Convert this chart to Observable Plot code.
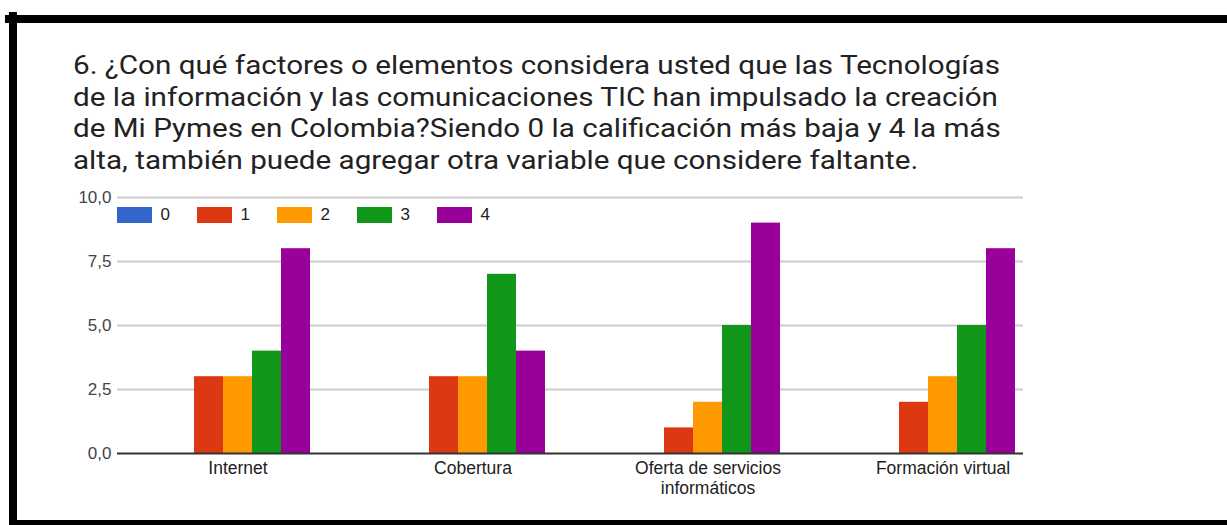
<!DOCTYPE html>
<html><head><meta charset="utf-8">
<script src="https://cdn.jsdelivr.net/npm/d3@7"></script>
<script src="https://cdn.jsdelivr.net/npm/@observablehq/plot@0.6"></script>
<style>
html,body{margin:0;padding:0;background:#fff;}
#wrap{position:relative;width:1227px;height:525px;overflow:hidden;background:#fff;}
.edge{position:absolute;background:#000;}
#title{position:absolute;left:73px;top:50px;font-family:Roboto,sans-serif;font-size:25px;line-height:31.5px;color:#222;white-space:pre;transform-origin:0 0;}
.layer{position:absolute;left:0;top:185px;}
#legend{position:absolute;left:117px;top:205px;}
.lg-swatches{font-family:Arial,'Liberation Sans',sans-serif !important;font-size:17px !important;color:#222 !important;margin:0 !important;min-height:0 !important;}
.lg-swatch{margin-right:0 !important;width:80px;}
</style></head><body>
<div id="wrap">
 <div class="edge" style="left:5px;top:15px;width:1222px;height:8px"></div>
 <div class="edge" style="left:9px;top:12px;width:8px;height:513px"></div>
 <div class="edge" style="left:9px;top:520px;width:1218px;height:5px"></div>
 <div id="title"><span id="t1"></span></div>
 <div id="gridLayer" class="layer"></div>
 <div id="barLayer" class="layer"></div>
 <div id="baseLayer" class="layer"></div>
 <div id="legend"></div>
</div>
<script>
const titleLines = [
  "6. ¿Con qué factores o elementos considera usted que las Tecnologías",
  "de la información y las comunicaciones TIC han impulsado la creación",
  "de Mi Pymes en Colombia?Siendo 0 la calificación más baja y 4 la más",
  "alta, también puede agregar otra variable que considere faltante."
];
const categories = ["Internet", "Cobertura", "Oferta de servicios informáticos", "Formación virtual"];
const series = ["0", "1", "2", "3", "4"];
const colors = ["#3366cc", "#dc3912", "#ff9900", "#109618", "#990099"];
const internet = [0, 3, 3, 4, 8];
const cobertura = [0, 3, 3, 7, 4];
const oferta = [0, 1, 2, 5, 9];
const formacion = [0, 2, 3, 5, 8];
const yTicks = [0, 2.5, 5, 7.5, 10];

const valuesByCategory = [internet, cobertura, oferta, formacion];
const data = categories.flatMap((c, i) => series.map((s, j) => ({category: c, series: s, value: valuesByCategory[i][j]})));

// Title (stretched horizontally like the reference screenshot)
const titleEl = document.getElementById("title");
titleEl.textContent = titleLines.join("\n");
const probe = document.createElement("span");
probe.style.cssText = "font-family:Roboto,sans-serif;font-size:25px;white-space:pre;position:absolute;visibility:hidden";
probe.textContent = titleLines[0];
document.body.appendChild(probe);
const w = probe.getBoundingClientRect().width;
probe.remove();
titleEl.style.transform = `scaleX(${927 / w})`;

const font = "Arial, 'Liberation Sans', sans-serif";
const common = {
  width: 1227, height: 340,
  marginTop: 12, marginBottom: 72, marginLeft: 117, marginRight: 204,
  style: {fontFamily: font, fontSize: "17.5px", background: "transparent", overflow: "visible"},
  y: {domain: [0, 10], axis: null}
};

// Layer 1: grid and y axis
const gridPlot = Plot.plot({
  ...common,
  x: {axis: null},
  marks: [
    Plot.ruleY(yTicks.filter(d => d > 0), {stroke: "#cccccc", strokeWidth: 2}),
    Plot.axisY(yTicks, {anchor: "left", tickSize: 0, tickPadding: 6, fill: "#444", fontSize: 17, tickFormat: d => d.toFixed(1).replace(".", ","), label: null})
  ]
});
document.getElementById("gridLayer").appendChild(gridPlot);

// Layer 2: grouped bars (faceted by category) and category labels
const barPlot = Plot.plot({
  ...common,
  fx: {domain: categories, range: [119.1, 1060.7], padding: 0, label: null, axis: null},
  x: {domain: series, paddingInner: 0, paddingOuter: 1.53, axis: null},
  color: {domain: series, range: colors},
  marks: [
    Plot.barY(data, {fx: "category", x: "series", y: "value", fill: "series"}),
    Plot.axisFx({anchor: "bottom", tickSize: 0, tickPadding: 7, fill: "#222", fontSize: 17.5, lineWidth: 10, lineHeight: 1.12, label: null})
  ]
});
document.getElementById("barLayer").appendChild(barPlot);

// Layer 3: zero baseline on top of bars
const basePlot = Plot.plot({
  ...common,
  x: {axis: null},
  marks: [Plot.ruleY([0], {stroke: "#333333", strokeWidth: 2})]
});
document.getElementById("baseLayer").appendChild(basePlot);

const leg = Plot.legend({color: {domain: series, range: colors}, legend: "swatches", swatchWidth: 35, swatchHeight: 16, className: "lg"});
document.getElementById("legend").appendChild(leg);
</script>
</body></html>
